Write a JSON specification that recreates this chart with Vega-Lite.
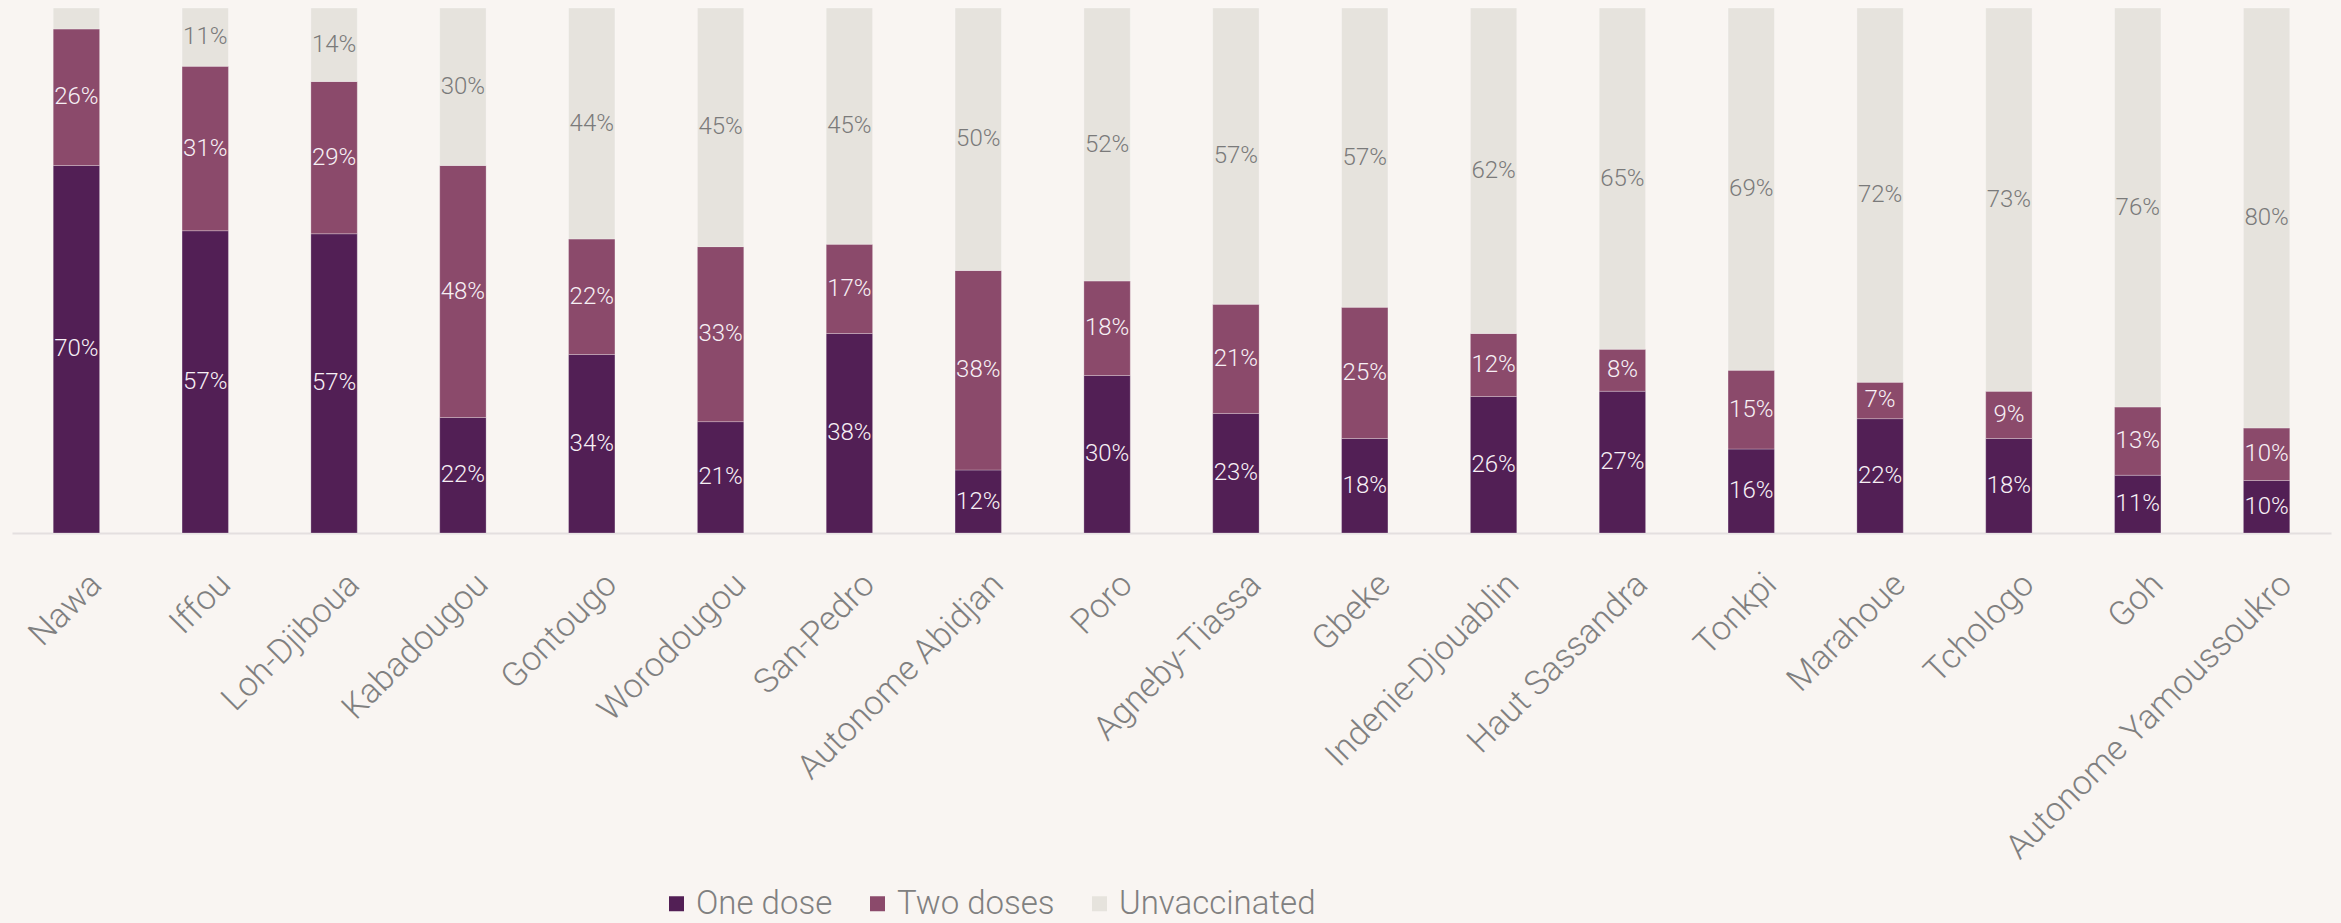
{
  "$schema": "https://vega.github.io/schema/vega-lite/v6.json",
  "width": 2319,
  "height": 525,
  "autosize": {"type": "none"},
  "padding": {"left": 12, "top": 8, "right": 10, "bottom": 390},
  "background": "#f9f5f2",
  "config": {
    "view": {"stroke": null},
    "font": "Roboto",
    "axis": {"labelFont": "Roboto"},
    "legend": {"labelFont": "Roboto"}
  },
  "data": {
    "values": [
      {"region": "Nawa", "dose": "One dose", "value": 0.70},
      {"region": "Nawa", "dose": "Two doses", "value": 0.26},
      {"region": "Nawa", "dose": "Unvaccinated", "value": 0.04},
      {"region": "Iffou", "dose": "One dose", "value": 0.57},
      {"region": "Iffou", "dose": "Two doses", "value": 0.31},
      {"region": "Iffou", "dose": "Unvaccinated", "value": 0.11},
      {"region": "Loh-Djiboua", "dose": "One dose", "value": 0.57},
      {"region": "Loh-Djiboua", "dose": "Two doses", "value": 0.29},
      {"region": "Loh-Djiboua", "dose": "Unvaccinated", "value": 0.14},
      {"region": "Kabadougou", "dose": "One dose", "value": 0.22},
      {"region": "Kabadougou", "dose": "Two doses", "value": 0.48},
      {"region": "Kabadougou", "dose": "Unvaccinated", "value": 0.30},
      {"region": "Gontougo", "dose": "One dose", "value": 0.34},
      {"region": "Gontougo", "dose": "Two doses", "value": 0.22},
      {"region": "Gontougo", "dose": "Unvaccinated", "value": 0.44},
      {"region": "Worodougou", "dose": "One dose", "value": 0.21},
      {"region": "Worodougou", "dose": "Two doses", "value": 0.33},
      {"region": "Worodougou", "dose": "Unvaccinated", "value": 0.45},
      {"region": "San-Pedro", "dose": "One dose", "value": 0.38},
      {"region": "San-Pedro", "dose": "Two doses", "value": 0.17},
      {"region": "San-Pedro", "dose": "Unvaccinated", "value": 0.45},
      {"region": "Autonome Abidjan", "dose": "One dose", "value": 0.12},
      {"region": "Autonome Abidjan", "dose": "Two doses", "value": 0.38},
      {"region": "Autonome Abidjan", "dose": "Unvaccinated", "value": 0.50},
      {"region": "Poro", "dose": "One dose", "value": 0.30},
      {"region": "Poro", "dose": "Two doses", "value": 0.18},
      {"region": "Poro", "dose": "Unvaccinated", "value": 0.52},
      {"region": "Agneby-Tiassa", "dose": "One dose", "value": 0.23},
      {"region": "Agneby-Tiassa", "dose": "Two doses", "value": 0.21},
      {"region": "Agneby-Tiassa", "dose": "Unvaccinated", "value": 0.57},
      {"region": "Gbeke", "dose": "One dose", "value": 0.18},
      {"region": "Gbeke", "dose": "Two doses", "value": 0.25},
      {"region": "Gbeke", "dose": "Unvaccinated", "value": 0.57},
      {"region": "Indenie-Djouablin", "dose": "One dose", "value": 0.26},
      {"region": "Indenie-Djouablin", "dose": "Two doses", "value": 0.12},
      {"region": "Indenie-Djouablin", "dose": "Unvaccinated", "value": 0.62},
      {"region": "Haut Sassandra", "dose": "One dose", "value": 0.27},
      {"region": "Haut Sassandra", "dose": "Two doses", "value": 0.08},
      {"region": "Haut Sassandra", "dose": "Unvaccinated", "value": 0.65},
      {"region": "Tonkpi", "dose": "One dose", "value": 0.16},
      {"region": "Tonkpi", "dose": "Two doses", "value": 0.15},
      {"region": "Tonkpi", "dose": "Unvaccinated", "value": 0.69},
      {"region": "Marahoue", "dose": "One dose", "value": 0.22},
      {"region": "Marahoue", "dose": "Two doses", "value": 0.07},
      {"region": "Marahoue", "dose": "Unvaccinated", "value": 0.72},
      {"region": "Tchologo", "dose": "One dose", "value": 0.18},
      {"region": "Tchologo", "dose": "Two doses", "value": 0.09},
      {"region": "Tchologo", "dose": "Unvaccinated", "value": 0.73},
      {"region": "Goh", "dose": "One dose", "value": 0.11},
      {"region": "Goh", "dose": "Two doses", "value": 0.13},
      {"region": "Goh", "dose": "Unvaccinated", "value": 0.76},
      {"region": "Autonome Yamoussoukro", "dose": "One dose", "value": 0.10},
      {"region": "Autonome Yamoussoukro", "dose": "Two doses", "value": 0.10},
      {"region": "Autonome Yamoussoukro", "dose": "Unvaccinated", "value": 0.80}
    ]
  },
  "encoding": {
    "x": {
      "field": "region",
      "type": "nominal",
      "sort": null,
      "scale": {"paddingInner": 0.64, "paddingOuter": 0.32},
      "axis": {
        "title": null,
        "labelAngle": -45,
        "labelFontSize": 34,
        "labelFontWeight": 300,
        "labelColor": "#808080",
        "labelPadding": 34,
        "labelOffset": 8,
        "ticks": false,
        "domainColor": "#e4dfdf",
        "domainWidth": 2,
        "labelLimit": 600
      }
    },
    "y": {
      "field": "value",
      "type": "quantitative",
      "stack": "normalize",
      "scale": {"domain": [0, 1], "nice": false},
      "axis": null
    }
  },
  "layer": [
    {
      "mark": {"type": "bar", "stroke": "#ffffff", "strokeOpacity": 0.25, "strokeWidth": 1},
      "encoding": {
        "color": {
          "field": "dose",
          "type": "nominal",
          "scale": {
            "domain": ["One dose", "Two doses", "Unvaccinated"],
            "range": ["#521f55", "#8b4a6b", "#e6e3dd"]
          },
          "legend": {
            "title": null,
            "orient": "none",
            "direction": "horizontal",
            "legendX": 648,
            "legendY": 879,
            "symbolType": "square",
            "symbolSize": 225,
            "symbolStrokeWidth": 0,
            "labelFontSize": 33,
            "labelFontWeight": 300,
            "labelColor": "#808080",
            "labelLimit": 400,
            "columnPadding": 28,
            "labelOffset": 3
          }
        },
        "order": {"field": "dose"}
      }
    },
    {
      "mark": {"type": "text", "fontSize": 24, "fontWeight": 300, "baseline": "middle"},
      "encoding": {
        "y": {
          "field": "value",
          "type": "quantitative",
          "stack": "normalize",
          "bandPosition": 0.5
        },
        "detail": {"field": "dose"},
        "order": {"field": "dose"},
        "text": {
          "condition": {"test": "datum.value < 0.05", "value": ""},
          "field": "value",
          "format": ".0%"
        },
        "color": {
          "condition": {"test": "datum.dose === 'Unvaccinated'", "value": "#7a7a7a"},
          "value": "#f7f0f5"
        }
      }
    }
  ]
}
